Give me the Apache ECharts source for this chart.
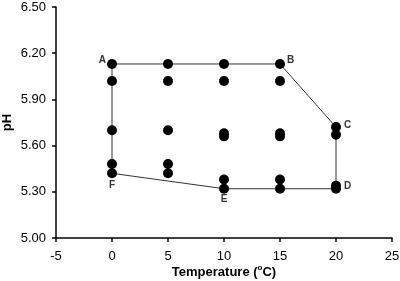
<!DOCTYPE html>
<html>
<head>
<meta charset="utf-8">
<script src="https://cdn.jsdelivr.net/npm/echarts@6/dist/echarts.min.js"></script>
<style>
  html, body { margin: 0; padding: 0; background: #fff; }
  #chart { width: 400px; height: 281px; }
</style>
</head>
<body>
<div id="chart"></div>
<script>
// measured points (temperature, pH)
var temps = [0, 5, 10, 15, 20];
var ph_0 = [6.13, 6.02, 5.70, 5.48, 5.42];
var ph_5 = [6.13, 6.02, 5.70, 5.48, 5.42];
var ph_10 = [6.13, 6.02, 5.68, 5.66, 5.38, 5.32];
var ph_15 = [6.13, 6.02, 5.68, 5.66, 5.38, 5.32];
var ph_20 = [5.72, 5.67, 5.34, 5.32];

// boundary polygon A-F
var cornerNames = ['A', 'B', 'C', 'D', 'E', 'F'];
var cornerTemps = [0, 15, 20, 20, 10, 0];
var cornerPh = [6.13, 6.13, 5.72, 5.32, 5.32, 5.42];
var cornerPos = ['left', 'right', 'right', 'right', 'bottom', 'bottom'];
var cornerShift = [[3, -4], [-2, -4], [-1, -2], [-1, -2], [0, -3], [0, -2]];

var chart = echarts.init(document.getElementById('chart'));

var points = [];
[ph_0, ph_5, ph_10, ph_15, ph_20].forEach(function (list, i) {
    list.forEach(function (v) { points.push([temps[i], v]); });
});

var outline = [];
for (var i = 0; i < cornerNames.length; i++) {
    outline.push([cornerTemps[i], cornerPh[i]]);
}
outline.push([cornerTemps[0], cornerPh[0]]);

var corners = cornerNames.map(function (n, i) {
    return {
        value: [cornerTemps[i], cornerPh[i]],
        label: { show: true, formatter: n, position: cornerPos[i], distance: 4, offset: cornerShift[i] }
    };
});

var axisText = { color: '#000', fontFamily: 'Liberation Sans', fontSize: 13 };

var option = {
    animation: false,
    grid: { left: 56, right: 8, top: 7, bottom: 43, outerBoundsMode: 'none' },
    xAxis: {
        type: 'value',
        min: -5,
        max: 25,
        interval: 5,
        splitLine: { show: false },
        axisLine: { onZero: false, lineStyle: { color: '#000', width: 1.5 } },
        axisTick: { show: true, length: 4, lineStyle: { color: '#000', width: 1.5 } },
        axisLabel: Object.assign({ margin: 12 }, axisText),
        name: '{t|Temperature (}{s|o}{t|C)}',
        nameLocation: 'middle',
        nameMoveOverlap: false,
        nameGap: 23,
        nameTextStyle: {
            rich: {
                t: { fontFamily: 'Liberation Sans', fontWeight: 'bold', fontSize: 13, color: '#000', height: 14 },
                s: { fontFamily: 'Liberation Sans', fontWeight: 'bold', fontSize: 8, color: '#000', height: 14, padding: [0, 0, 9, 0] }
            }
        }
    },
    yAxis: {
        type: 'value',
        min: 5.0,
        max: 6.5,
        interval: 0.3,
        splitLine: { show: false },
        axisLine: { show: true, onZero: false, lineStyle: { color: '#000', width: 1.5 } },
        axisTick: { show: true, length: 4, lineStyle: { color: '#000', width: 1.5 } },
        axisLabel: Object.assign({ margin: 10, formatter: function (v) { return v.toFixed(2); } }, axisText),
        name: 'pH',
        nameLocation: 'middle',
        nameMoveOverlap: false,
        nameGap: 42,
        nameTextStyle: { fontFamily: 'Liberation Sans', fontWeight: 'bold', fontSize: 13, color: '#000' }
    },
    series: [
        {
            type: 'line',
            data: outline,
            symbol: 'none',
            lineStyle: { color: '#333', width: 1 },
            z: 1
        },
        {
            type: 'scatter',
            data: points,
            symbol: 'circle',
            symbolSize: 10,
            itemStyle: { color: '#000', opacity: 1 },
            z: 3
        },
        {
            type: 'scatter',
            data: corners,
            symbolSize: 10,
            itemStyle: { color: 'rgba(0,0,0,0)' },
            label: { color: '#000', fontFamily: 'Liberation Sans', fontWeight: 'bold', fontSize: 10 },
            z: 4
        }
    ]
};

chart.setOption(option);
</script>
</body>
</html>
